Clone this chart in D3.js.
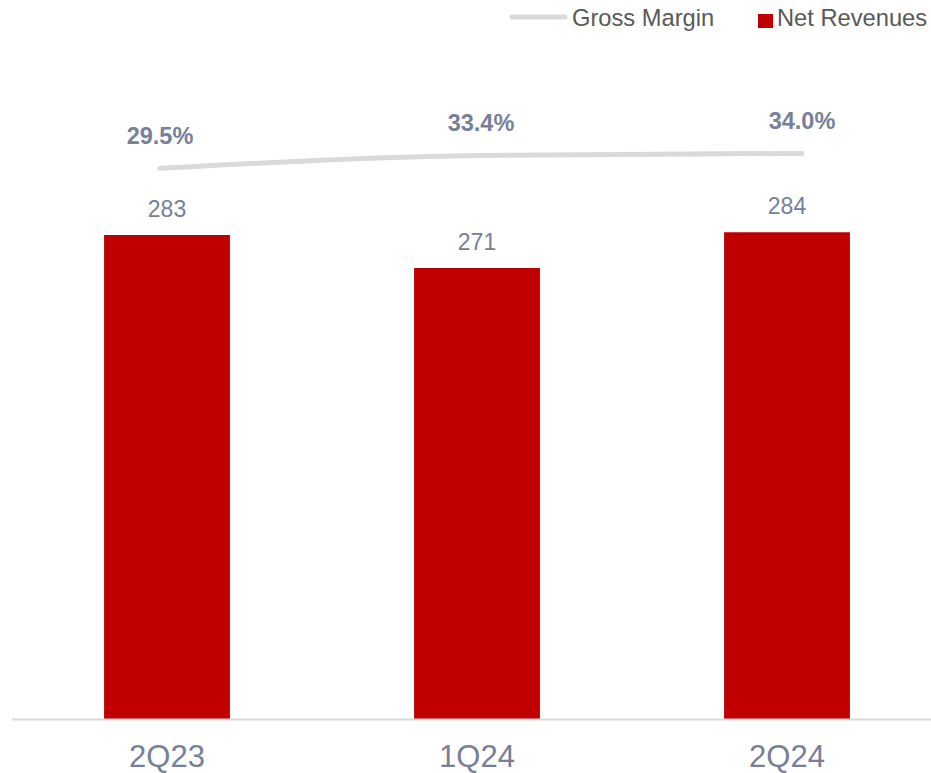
<!DOCTYPE html>
<html>
<head>
<meta charset="utf-8">
<script src="https://cdn.jsdelivr.net/npm/d3@7"></script>
<style>
    body { margin: 0; background: #fff; }
    svg { display: block; font-family: Arial, "Liberation Sans", sans-serif; }
</style>
</head>
<body>
<svg id="chart"></svg>
<script>
"use strict";

const width = 931;
const height = 773;
const baseline = 719;

const quarters = ["2Q23", "1Q24", "2Q24"];
const net_revenues = [283, 271, 284];
const gross_margin = [29.5, 33.4, 34.0];

const bar_color = "#c00000";
const line_color = "#d9d9d9";
const label_color = "#768099";
const legend_color = "#595959";

const svg = d3.select("#chart")
    .attr("width", width)
    .attr("height", height);

// scales
const x_scale = d3.scaleBand()
    .domain(quarters)
    .range([12, 942])
    .paddingInner(0.594)
    .paddingOuter(0.297);

// line series sits on its own (secondary) category layout
const x_line = d3.scalePoint()
    .domain(quarters)
    .range([160, 802]);

const y_scale = d3.scaleLinear()
    .domain([107, 290])
    .range([baseline, baseline - 183 * 2.75]);

const y_line = d3.scaleLinear()
    .domain([20, 40])
    .range([200, 133.4]);

// bars
svg.append("g")
    .selectAll("rect")
    .data(net_revenues)
    .enter()
    .append("rect")
    .attr("x", (d, i) => x_scale(quarters[i]))
    .attr("y", d => y_scale(d))
    .attr("width", x_scale.bandwidth())
    .attr("height", d => baseline - y_scale(d))
    .attr("fill", bar_color);

// bar labels
svg.append("g")
    .selectAll("text")
    .data(net_revenues)
    .enter()
    .append("text")
    .attr("x", (d, i) => x_scale(quarters[i]) + x_scale.bandwidth() / 2)
    .attr("y", d => y_scale(d) - 18)
    .attr("text-anchor", "middle")
    .attr("font-size", 23)
    .attr("fill", label_color)
    .text(d => d);

// x axis
const axis_x = svg.append("g")
    .attr("transform", `translate(0, ${baseline})`)
    .call(d3.axisBottom(x_scale).tickSize(0).tickPadding(26));
axis_x.select(".domain")
    .attr("d", `M12,0.5H${width}`)
    .attr("stroke", line_color)
    .attr("stroke-width", 2);
axis_x.selectAll("text")
    .attr("font-size", 31)
    .attr("font-family", "Arial, 'Liberation Sans', sans-serif")
    .attr("fill", label_color);

// gross margin line
const line = d3.line()
    .x((d, i) => x_line(quarters[i]))
    .y(d => y_line(d))
    .curve(d3.curveMonotoneX);

svg.append("path")
    .datum(gross_margin)
    .attr("d", line)
    .attr("fill", "none")
    .attr("stroke", line_color)
    .attr("stroke-width", 5)
    .attr("stroke-linecap", "round");

svg.append("g")
    .selectAll("text")
    .data(gross_margin)
    .enter()
    .append("text")
    .attr("x", (d, i) => x_line(quarters[i]))
    .attr("y", d => y_line(d) - 24)
    .attr("text-anchor", "middle")
    .attr("font-size", 23.5)
    .attr("font-weight", "bold")
    .attr("fill", label_color)
    .text(d => d.toFixed(1) + "%");

// legend
const legend = svg.append("g");
legend.append("line")
    .attr("x1", 512).attr("x2", 565)
    .attr("y1", 17).attr("y2", 17)
    .attr("stroke", line_color)
    .attr("stroke-width", 5)
    .attr("stroke-linecap", "round");
legend.append("text")
    .attr("x", 572).attr("y", 26)
    .attr("font-size", 23.7)
    .attr("fill", legend_color)
    .text("Gross Margin");
legend.append("rect")
    .attr("x", 758).attr("y", 14)
    .attr("width", 15).attr("height", 14)
    .attr("fill", bar_color);
legend.append("text")
    .attr("x", 777).attr("y", 26)
    .attr("font-size", 23.7)
    .attr("fill", legend_color)
    .text("Net Revenues");
</script>
</body>
</html>
